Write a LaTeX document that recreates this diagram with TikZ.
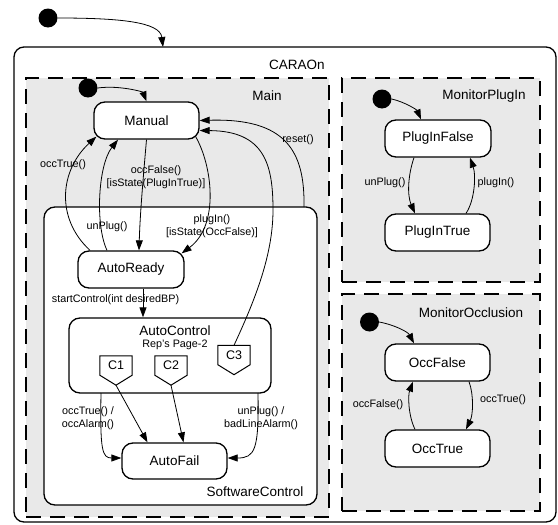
\documentclass[tikz,border=0pt]{standalone}
\usepackage{fontspec}
\setmainfont{Liberation Sans}
\usetikzlibrary{arrows.meta,calc}
\definecolor{regionfill}{RGB}{233,233,233}
\begin{document}
\begin{tikzpicture}[x=1pt,y=-1pt,
  state/.style={draw, line width=1.3pt, rounded corners=11pt, fill=white,
    minimum width=105pt, minimum height=37pt, inner sep=0pt,
    font=\fontsize{13.5}{15}\selectfont},
  region/.style={draw, line width=1.4pt, dash pattern=on 15pt off 9pt,
    fill=regionfill, inner sep=0pt},
  compound/.style={draw, line width=1.3pt, rounded corners=11pt, fill=white, inner sep=0pt},
  initdot/.style={circle, fill=black, minimum size=19pt, inner sep=0pt},
  title/.style={font=\fontsize{13.5}{15}\selectfont, inner sep=0pt},
  lbl/.style={font=\fontsize{10.8}{13}\selectfont, inner sep=0pt, align=center},
  tr/.style={draw, line width=0.8pt, -{Triangle[length=10pt,width=7pt]}},
  conn/.style={font=\fontsize{12.5}{14}\selectfont, inner sep=0pt,
    minimum width=32pt, minimum height=19pt},
  connshape/.style={draw, line width=1pt, line join=miter}
]
\useasboundingbox (0,0) rectangle (558,525);

% containers
\node[compound, rounded corners=10pt, minimum width=542pt, minimum height=475pt] (caraon) at (285,284.5) {};
\node[region, minimum width=303pt, minimum height=439pt] (main) at (177.5,297.5) {};
\node[region, minimum width=198pt, minimum height=204pt] (monplug) at (441,180) {};
\node[region, minimum width=198pt, minimum height=217pt] (monocc) at (441,402.5) {};
\node[compound, minimum width=273pt, minimum height=298pt] (softctl) at (180.5,356) {};
\node[compound, minimum width=202pt, minimum height=75pt] (autoctl) at (170,355.5) {};

% titles
\node[title] (tCaraon) at (297,65) {CARAOn};
\node[title] (tMain) at (267,96) {Main};
\node[title] (tPlug) at (484,96) {MonitorPlugIn};
\node[title] (tOcc) at (471,313) {MonitorOcclusion};
\node[title] (tSoft) at (255,492) {SoftwareControl};
\node[title] (tAuto) at (175,331) {AutoControl};
\node[lbl] (tRep) at (175,345) {Rep’s Page-2};

% states
\node[state] (manual) at (146.5,120.5) {Manual};
\node[state, minimum width=106pt] (autoready) at (131,269.5) {AutoReady};
\node[state, minimum height=36pt] (autofail) at (174.5,461) {AutoFail};
\node[state, minimum width=106pt] (plugfalse) at (438,138.5) {PlugInFalse};
\node[state] (plugtrue) at (437.5,232.5) {PlugInTrue};
\node[state] (occfalse) at (437.5,362.5) {OccFalse};
\node[state] (occtrue) at (437.5,448.5) {OccTrue};

% connection points of AutoControl
\node[conn] (c1) at (116,365.5) {C1};
\node[conn] (c2) at (171,365.5) {C2};
\node[conn] (c3) at (234,355) {C3};
\coordinate (c1tip) at ($(c1.south)+(0,10)$);
\coordinate (c2tip) at ($(c2.south)+(0,10)$);
\coordinate (c3tip) at ($(c3.south)+(0,10)$);
\foreach \c in {c1,c2,c3}
  \draw[connshape] (\c.north west) -- (\c.north east) -- (\c.south east)
    -- (\c tip) -- (\c.south west) -- cycle;

% initial pseudostates
\node[initdot] (dot0) at (48,18) {};
\node[initdot] (maindot) at (88,88) {};
\node[initdot] (plugdot) at (382,99) {};
\node[initdot] (occdot) at (369.5,322) {};

% free ends on container borders
\coordinate (caraonIn) at (163,47);
\coordinate (resetSrc) at (304,207);
\coordinate (alarmSrc) at (101,393);
\coordinate (badSrc) at (258,393);

% initial transitions
\draw[tr] (dot0.east) .. controls (120,18) and (160,22) .. (caraonIn);
\draw[tr] (maindot.east) .. controls (120,85) and (143,92) .. (manual.north);
\draw[tr] (plugdot.east) .. controls (405,102) and (417,110) .. ([xshift=-17pt]plugfalse.north);
\draw[tr] (occdot.east) .. controls (395,325) and (408,332) .. ([xshift=-23.5pt]occfalse.north);

% Main transitions
\draw[tr] ([xshift=-41pt]autoready.north) .. controls (55,218) and (60,170) .. ([xshift=3pt,yshift=3pt]manual.south west);
\draw[tr] ([xshift=-24pt]autoready.north) .. controls (95,225) and (98,165) .. ([xshift=-28.5pt]manual.south);
\draw[tr] (manual.south) .. controls (143,180) and (140,215) .. ([xshift=8pt]autoready.north);
\draw[tr] ([xshift=-4pt,yshift=3pt]manual.south east) .. controls (212,165) and (220,225) .. ([xshift=-3pt,yshift=-3pt]autoready.north east);
\draw[tr] (c3.north) .. controls (255,300) and (273,255) .. (273,210)
  .. controls (273,165) and (265,131) .. ([yshift=-10pt]manual.east);
\draw[tr] (resetSrc) .. controls (305,150) and (285,118) .. (manual.east);
\draw[tr] ([xshift=12pt]autoready.south) -- ([xshift=-27pt]autoctl.north);
\draw[tr] (c1tip) -- ([xshift=-27pt]autofail.north);
\draw[tr] (c2tip) -- ([xshift=9pt]autofail.north);
\draw[tr] (alarmSrc) .. controls (100,450) and (102,458) .. ([yshift=3pt]autofail.west);
\draw[tr] (badSrc) .. controls (259,450) and (255,458) .. ([yshift=3pt]autofail.east);

% MonitorPlugIn transitions
\draw[tr] ([xshift=-24pt]plugfalse.south) .. controls (408,175) and (407,195) .. ([xshift=-22.5pt]plugtrue.north);
\draw[tr] ([xshift=28.5pt]plugtrue.north) .. controls (475,200) and (476,175) .. ([xshift=32pt]plugfalse.south);

% MonitorOcclusion transitions
\draw[tr] ([xshift=-22.5pt]occtrue.north) .. controls (408,415) and (408,395) .. ([xshift=-24.5pt]occfalse.south);
\draw[tr] ([xshift=31.5pt]occfalse.south) .. controls (474,395) and (473,415) .. ([xshift=28.5pt]occtrue.north);

% transition labels
\node[lbl] (lOccTrue) at (63,165) {occTrue()};
\node[lbl] (lOccFalse) at (156,177) {occFalse()\\{}[isState(PlugInTrue)]};
\node[lbl] (lUnPlug) at (107,227) {unPlug()};
\node[lbl] (lPlugIn) at (212,226.5) {plugIn()\\{}[isState(OccFalse)]};
\node[lbl] (lReset) at (298,140) {reset()};
\node[lbl] (lStart) at (115.5,300) {startControl(int desiredBP)};
\node[lbl] (lAlarm) at (88,418.5) {occTrue() /\\occAlarm()};
\node[lbl] (lBad) at (261,418.5) {unPlug() /\\badLineAlarm()};
\node[lbl] (lPUn) at (385,183) {unPlug()};
\node[lbl] (lPIn) at (496,183) {plugIn()};
\node[lbl] (lOF) at (378,405) {occFalse()};
\node[lbl] (lOT) at (503,400) {occTrue()};
\end{tikzpicture}
\end{document}
